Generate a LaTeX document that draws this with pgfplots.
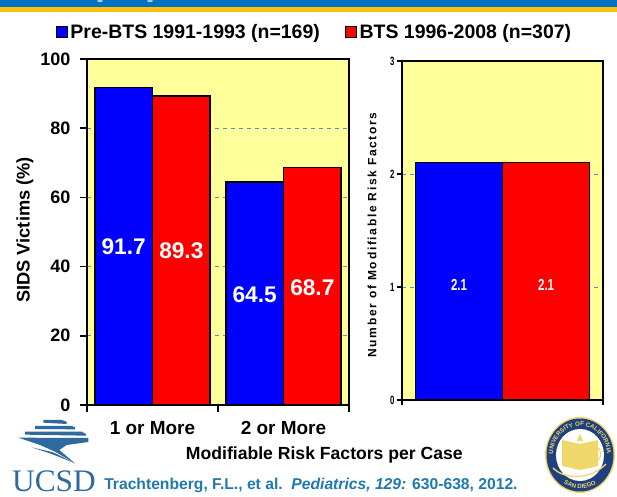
\documentclass[border=0pt]{standalone}
\usepackage{fontspec}
\setmainfont{Liberation Sans}
\newfontfamily\serifucsd{Liberation Serif}
\usepackage{pgfplots}
\pgfplotsset{compat=1.18}
\usetikzlibrary{decorations.text}
\definecolor{plotbg}{HTML}{FFFF99}
\definecolor{headblue}{HTML}{0070C0}
\definecolor{headgold}{HTML}{FFC20E}
\definecolor{gridblue}{HTML}{5E8FC4}
\definecolor{ucsdblue}{HTML}{2F6A9E}
\definecolor{citeblue}{HTML}{1F78B0}
\definecolor{sealblue}{HTML}{1F3F7F}
\definecolor{sealgold}{HTML}{F0D76A}
\newcommand{\fs}[1]{\fontsize{#1}{#1}\selectfont}
\begin{document}
\begin{tikzpicture}[x=0.75pt,y=0.75pt]
\path[use as bounding box] (0,0) rectangle (617,496);
% header band
\fill[headblue] (0,489) rectangle (617,496);
\fill[headgold] (0,484) rectangle (617,489);
\fill[white!65!headblue] (100,495) ellipse [x radius=3,y radius=1.2];
\fill[white!65!headblue] (150,495) ellipse [x radius=3,y radius=1.2];
% left axis
\begin{axis}[
  at={(65.25pt,68.25pt)}, anchor=south west,
  scale only axis, width=196.5pt, height=259.5pt,
  xmin=0, xmax=2, ymin=0, ymax=100,
  ybar, bar width=0.44,
  axis background/.style={fill=plotbg},
  axis line style={black,line width=1.5pt},
  tick style={black,line width=1.2pt},
  major tick length=5pt,
  tick align=outside, xtick pos=bottom, ytick pos=left,
  xtick={0,1,2}, x tick label as interval,
  xticklabels={1 or More,2 or More},
  xticklabel style={font=\bfseries\fs{14.2}, yshift=-3.5pt},
  ytick={0,20,40,60,80,100},
  yticklabel style={font=\bfseries\fs{13.5}, xshift=-4pt},
  /pgf/number format/assume math mode=true,
  ymajorgrids, grid style={gridblue,dashed,line width=0.7pt},
  ylabel={SIDS Victims (\%)}, xlabel={Modifiable Risk Factors per Case},
  every axis y label/.style={at={(axis description cs:-0.237,0.506)},rotate=90,anchor=center,font=\fs{13.7}\bfseries},
  every axis x label/.style={at={(axis description cs:0.906,-0.143)},anchor=center,font=\fs{13.2}\bfseries},
  legend image code/.code={\draw[#1,line width=0.8pt] (0pt,-4pt) rectangle (8pt,4pt);},
  legend columns=2,
  legend style={at={(axis description cs:-0.118,1.078)},anchor=west,draw=none,fill=none,inner sep=0pt,outer sep=0pt,
    font=\bfseries\fs{14.6},
    /tikz/every odd column/.append style={column sep=0pt},
    /tikz/every even column/.append style={column sep=17pt}},
]
\addplot[draw=black,fill=blue,line width=1.1pt,bar shift=-0.22] coordinates {(0.5,91.7) (1.5,64.5)};
\addplot[draw=black,fill=red,line width=1.1pt,bar shift=0.22] coordinates {(0.5,89.3) (1.5,68.7)};
\legend{Pre-BTS 1991-1993 (n=169),BTS 1996-2008 (n=307)}
\node[white,font=\bfseries\fs{17}] at (axis cs:0.28,45.8) {91.7};
\node[white,font=\bfseries\fs{17}] at (axis cs:0.72,44.6) {89.3};
\node[white,font=\bfseries\fs{17}] at (axis cs:1.28,31.9) {64.5};
\node[white,font=\bfseries\fs{17}] at (axis cs:1.72,34) {68.7};
\end{axis}
% right axis
\begin{axis}[
  at={(301.5pt,72pt)}, anchor=south west,
  scale only axis, width=150.75pt, height=254.25pt,
  xmin=0, xmax=1, ymin=0, ymax=3,
  ybar, bar width=0.433,
  axis background/.style={fill=plotbg},
  axis line style={black,line width=1pt},
  tick style={black,line width=1pt},
  major tick length=4pt,
  tick align=outside, xtick pos=bottom, ytick pos=left,
  xtick={0,1}, xticklabels={},
  ytick={0,1,2,3},
  yticklabel style={font=\bfseries\fs{9},xscale=0.65,xshift=1pt},
  /pgf/number format/assume math mode=true,
  ymajorgrids, grid style={gridblue,dashed,line width=0.7pt},
  ylabel={Number of Modifiable Risk Factors},
  every axis y label/.style={at={(axis description cs:-0.149,0.487)},rotate=90,anchor=center,font=\fs{9}\bfseries\addfontfeature{LetterSpace=14}},
]
\addplot[draw=black,fill=blue,line width=0.9pt,bar shift=-0.2165] coordinates {(0.5,2.1)};
\addplot[draw=black,fill=red,line width=0.9pt,bar shift=0.2165] coordinates {(0.5,2.1)};
\node[white,font=\bfseries\fs{12},xscale=0.72] at (axis cs:0.284,1.02) {2.1};
\node[white,font=\bfseries\fs{12},xscale=0.72] at (axis cs:0.717,1.02) {2.1};
\end{axis}
% UCSD logo
\begin{scope}[x=0.25pt,y=-0.25pt,shift={(0pt,64.5pt)}]
\fill[ucsdblue] (130,30) -- (185,30) -- (200,35) -- (200,42) -- (130,38) -- cycle;
\fill[ucsdblue] (105,48) -- (215,48) -- (225,52) -- (225,58) -- (105,57) -- cycle;
\fill[ucsdblue] (75,65) -- (245,65) -- (258,72) -- (258,77) -- (75,74) -- cycle;
\fill[ucsdblue] (55,83) -- (265,84) -- (265,96) -- (200,105) -- (178,120) -- (225,160) -- (165,125) -- (120,105) -- cycle;
\fill[ucsdblue] (95,112) -- (160,127) -- (225,160) -- (150,130) -- cycle;
\end{scope}
\node[ucsdblue,font=\serifucsd\fs{23.5},anchor=center,inner sep=0pt] at (54,15) {UCSD};
% citation
\node[citeblue,anchor=west,font=\bfseries\fs{11.75},inner sep=0pt] at (104,11) {Trachtenberg, F.L., et al.\ \ \textit{Pediatrics, 129:} 630-638, 2012.};
% seal
\fill[sealgold] (580,41) ellipse [x radius=35,y radius=38];
\fill[sealblue] (580,41) ellipse [x radius=33.5,y radius=36.5];
\fill[white] (580,41) ellipse [x radius=24,y radius=26];
\fill[sealgold] (562,56) -- (580,52) -- (598,56) -- (598,30) -- (580,26) -- (562,30) -- cycle;
\draw[sealgold,line width=1pt] (553,28) .. controls (565,16) and (590,16) .. (606,32);
\draw[sealgold,line width=0.8pt] (590,28) .. controls (600,36) and (604,42) .. (598,48);
\fill[sealgold] (580,62) -- (583,55) -- (577,55) -- cycle;
\path[decorate,decoration={text along path,text align=center,text={|\bfseries\fs{4.6}\color{sealgold}|UNIVERSITY OF CALIFORNIA}}]
  (580,41) ++(205:27 and 29) arc[start angle=205,end angle=-25,x radius=27,y radius=29];
\path[decorate,decoration={text along path,text align=center,text={|\bfseries\fs{4.6}\color{sealgold}|SAN DIEGO}}]
  (580,41) ++(235:31.5 and 33.5) arc[start angle=235,end angle=305,x radius=31.5,y radius=33.5];
\end{tikzpicture}
\end{document}
